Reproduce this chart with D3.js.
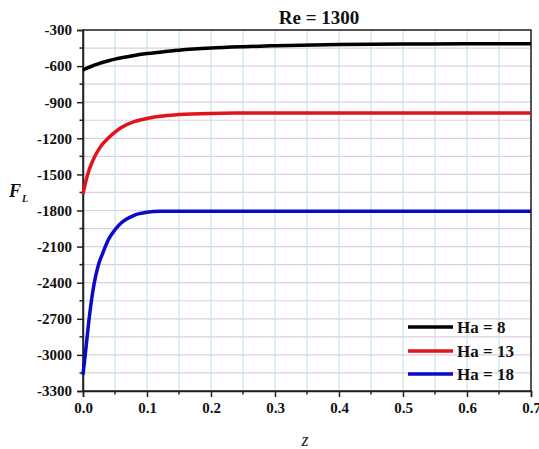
<!DOCTYPE html>
<html>
<head>
<meta charset="utf-8">
<script src="https://cdn.jsdelivr.net/npm/d3@7"></script>
<style>
  html, body { margin: 0; padding: 0; background: #fff; }
  svg { display: block; }
  text { font-family: "Liberation Serif", "Times New Roman", serif; }
</style>
</head>
<body>
<svg id="chart" width="539" height="449"></svg>
<script>
// ---- data ----
const zValues = [0, 0.005, 0.01, 0.015, 0.02, 0.025, 0.03, 0.04, 0.05, 0.06, 0.08, 0.1, 0.12, 0.15, 0.2, 0.25, 0.3, 0.4, 0.5, 0.6, 0.7];
const ha8  = [-633, -620, -608, -598, -588, -579, -570, -555, -542, -531, -512, -496, -484, -468, -450, -439, -431, -421, -417, -415, -415];
const ha13 = [-1662, -1545, -1455, -1390, -1335, -1290, -1252, -1195, -1148, -1110, -1062, -1035, -1017, -1003, -993, -990, -989, -989, -989, -989, -989];
const ha18 = [-3165, -2925, -2680, -2483, -2340, -2236, -2166, -2039, -1960, -1902, -1840, -1815, -1807, -1806, -1806, -1806, -1806, -1806, -1806, -1806, -1806];
const seriesNames = ["Ha = 8", "Ha = 13", "Ha = 18"];
const seriesColors = ["#000000", "#e0141a", "#0a0ac8"];
const xTicks = [0, 0.1, 0.2, 0.3, 0.4, 0.5, 0.6, 0.7];
const yTicks = [-300, -600, -900, -1200, -1500, -1800, -2100, -2400, -2700, -3000, -3300];
const titleText = "Re = 1300";

const series = [ha8, ha13, ha18].map((vals, i) => ({
  name: seriesNames[i], color: seriesColors[i],
  points: zValues.map((z, j) => ({ z, v: vals[j] }))
}));

// ---- layout ----
const svg = d3.select("#chart");
const pL = 83, pR = 531, pT = 30, pB = 391;
const x = d3.scaleLinear().domain([0, 0.7]).range([pL, pR]);
const y = d3.scaleLinear().domain([-3300, -300]).range([pB, pT]);
const SERIF = "Liberation Serif";

// grid
const xGrid = d3.range(0, 0.7001, 0.05);
const yGrid = d3.range(-3300, -299, 150);
svg.append("g").selectAll("line").data(yGrid).join("line")
  .attr("x1", pL).attr("x2", pR)
  .attr("y1", d => y(d)).attr("y2", d => y(d))
  .attr("stroke", "#dccfe2").attr("stroke-width", 1.2);
svg.append("g").selectAll("line").data(xGrid).join("line")
  .attr("y1", pT).attr("y2", pB)
  .attr("x1", d => x(d)).attr("x2", d => x(d))
  .attr("stroke", "#c9e3ee").attr("stroke-width", 1.2);

// frame
svg.append("rect").attr("x", pL).attr("y", pT)
  .attr("width", pR - pL).attr("height", pB - pT)
  .attr("fill", "none").attr("stroke", "#222").attr("stroke-width", 1.5);

// axes
const xAxis = d3.axisBottom(x).tickValues(xTicks).tickFormat(d3.format(".1f")).tickSize(6).tickPadding(5);
const yAxis = d3.axisLeft(y).tickValues(yTicks).tickFormat(d => String(d)).tickSize(6).tickPadding(5);

const gx = svg.append("g").attr("transform", `translate(0,${pB})`).call(xAxis);
const gy = svg.append("g").attr("transform", `translate(${pL},0)`).call(yAxis);
[gx, gy].forEach(g => {
  g.attr("font-family", null).attr("font-size", null);
  g.select(".domain").attr("stroke", "#222").attr("stroke-width", 1.5);
  g.selectAll(".tick line").attr("stroke", "#222").attr("stroke-width", 1.5);
  g.selectAll(".tick text").attr("fill", "#111")
    .style("font-family", SERIF).style("font-weight", "bold").style("font-size", "15px");
});
gx.selectAll(".tick text").attr("dy", "0.75em");

// minor ticks
const xMinor = d3.range(0.05, 0.7, 0.1);
const yMinor = d3.range(-3150, -300, 300);
svg.append("g").selectAll("line").data(xMinor).join("line")
  .attr("x1", d => x(d)).attr("x2", d => x(d))
  .attr("y1", pB).attr("y2", pB + 3.5)
  .attr("stroke", "#222").attr("stroke-width", 1.5);
svg.append("g").selectAll("line").data(yMinor).join("line")
  .attr("y1", d => y(d)).attr("y2", d => y(d))
  .attr("x1", pL).attr("x2", pL - 3.5)
  .attr("stroke", "#222").attr("stroke-width", 1.5);

// lines
const line = d3.line().x(d => x(d.z)).y(d => y(d.v)).curve(d3.curveMonotoneX);
svg.append("g").selectAll("path").data(series).join("path")
  .attr("d", d => line(d.points))
  .attr("fill", "none")
  .attr("stroke", d => d.color)
  .attr("stroke-width", 3.5)
  .attr("stroke-linejoin", "round");

// title
svg.append("text").attr("x", 319).attr("y", 24)
  .attr("text-anchor", "middle")
  .style("font-weight", "bold").style("font-size", "19px").attr("fill", "#111")
  .text(titleText);

// axis labels
const fl = svg.append("text").attr("x", 9).attr("y", 197)
  .style("font-weight", "bold").style("font-style", "italic").style("font-size", "18px").attr("fill", "#111");
fl.append("tspan").text("F");
fl.append("tspan").attr("dx", 1).attr("dy", 5).style("font-size", "10px").text("L");

svg.append("text").attr("x", 305).attr("y", 446)
  .attr("text-anchor", "middle")
  .style("font-style", "italic").style("font-size", "18px").attr("fill", "#222")
  .text("z");

// legend
const legendY = [327, 351, 374];
const lg = svg.append("g").selectAll("g").data(series).join("g")
  .attr("transform", (d, i) => `translate(0,${legendY[i]})`);
lg.append("line").attr("x1", 408).attr("x2", 453).attr("y1", 0).attr("y2", 0)
  .attr("stroke", d => d.color).attr("stroke-width", 3.5);
lg.append("text").attr("x", 457).attr("y", 6)
  .style("font-weight", "bold").style("font-size", "17px").attr("fill", "#111")
  .text(d => d.name);
</script>
</body>
</html>
